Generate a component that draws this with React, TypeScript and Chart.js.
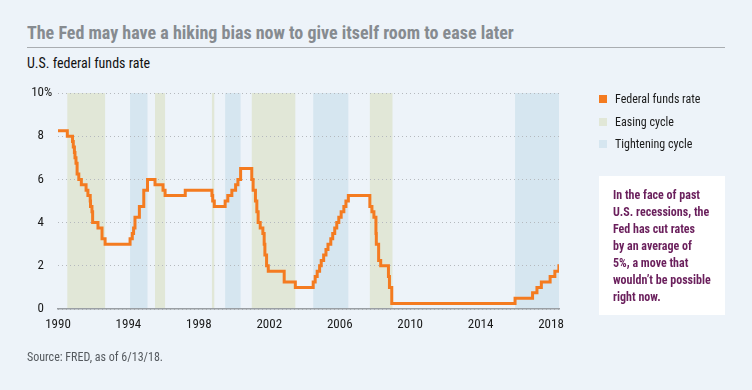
import React, { useEffect, useRef } from "react";
import { Chart, registerables } from "chart.js";

Chart.register(...registerables);

// ---- Data ----
const rateDates: string[] = [
  "1990-01-01", "1990-07-13", "1990-10-29", "1990-11-14", "1990-12-07", "1990-12-19",
  "1991-01-09", "1991-02-01", "1991-03-08", "1991-04-30", "1991-08-06", "1991-09-13",
  "1991-10-31", "1991-11-06", "1991-12-06", "1991-12-20",
  "1992-04-09", "1992-07-02", "1992-09-04",
  "1994-02-04", "1994-03-22", "1994-04-18", "1994-05-17", "1994-08-16", "1994-11-15",
  "1995-02-01", "1995-07-06", "1995-12-19",
  "1996-01-31", "1997-03-25",
  "1998-09-29", "1998-10-15", "1998-11-17",
  "1999-06-30", "1999-08-24", "1999-11-16",
  "2000-02-02", "2000-03-21", "2000-05-16",
  "2001-01-03", "2001-01-31", "2001-03-20", "2001-04-18", "2001-05-15", "2001-06-27",
  "2001-08-21", "2001-09-17", "2001-10-02", "2001-11-06", "2001-12-11",
  "2002-11-06", "2003-06-25",
  "2004-06-30", "2004-08-10", "2004-09-21", "2004-11-10", "2004-12-14",
  "2005-02-02", "2005-03-22", "2005-05-03", "2005-06-30", "2005-08-09", "2005-09-20",
  "2005-11-01", "2005-12-13",
  "2006-01-31", "2006-03-28", "2006-05-10", "2006-06-29",
  "2007-09-18", "2007-10-31", "2007-12-11",
  "2008-01-22", "2008-01-30", "2008-03-18", "2008-04-30", "2008-10-08", "2008-10-29", "2008-12-16",
  "2015-12-17", "2016-12-15",
  "2017-03-16", "2017-06-15", "2017-12-14",
  "2018-03-22", "2018-06-14", "2018-06-16",
];
const rateValues: number[] = [
  8.25, 8.0, 7.75, 7.5, 7.25, 7.0,
  6.75, 6.25, 6.0, 5.75, 5.5, 5.25,
  5.0, 4.75, 4.5, 4.0,
  3.75, 3.25, 3.0,
  3.25, 3.5, 3.75, 4.25, 4.75, 5.5,
  6.0, 5.75, 5.5,
  5.25, 5.5,
  5.25, 5.0, 4.75,
  5.0, 5.25, 5.5,
  5.75, 6.0, 6.5,
  6.0, 5.5, 5.0, 4.5, 4.0, 3.75,
  3.5, 3.0, 2.5, 2.0, 1.75,
  1.25, 1.0,
  1.25, 1.5, 1.75, 2.0, 2.25,
  2.5, 2.75, 3.0, 3.25, 3.5, 3.75,
  4.0, 4.25,
  4.5, 4.75, 5.0, 5.25,
  4.75, 4.5, 4.25,
  3.5, 3.0, 2.25, 2.0, 1.5, 1.0, 0.25,
  0.5, 0.75,
  1.0, 1.25, 1.5,
  1.75, 2.0, 2.0,
];

const easingStart: string[] = ["1990-07-13", "1995-07-06", "1998-09-29", "2001-01-03", "2007-09-18"];
const easingEnd: string[] = ["1992-09-04", "1996-01-31", "1998-11-17", "2003-06-25", "2008-12-31"];
const tighteningStart: string[] = ["1994-02-04", "1999-06-30", "2004-06-30", "2015-12-17"];
const tighteningEnd: string[] = ["1995-02-01", "2000-05-16", "2006-06-29", "2018-06-16"];

const xTicks: number[] = [1990, 1994, 1998, 2002, 2006, 2010, 2014, 2018];
const yTicks: number[] = [0, 2, 4, 6, 8, 10];
const yUnitTick = 10;
const yUnit = "%";

const toYear = (s: string): number => {
  const [y, m, d] = s.split("-").map(Number);
  const start = Date.UTC(y, 0, 1);
  const end = Date.UTC(y + 1, 0, 1);
  return y + (Date.UTC(y, m - 1, d) - start) / (end - start);
};

const FONT = "Roboto, 'DejaVu Sans Condensed', sans-serif";
const ORANGE = "#f47b20";
const EASE = "#e1e7d7";
const TIGHT = "#d6e6f0";
const BG = "#edf3f9";
const Y_PAD = 14;

const bandsPlugin = {
  id: "bands",
  beforeDraw(chart: any) {
    const { ctx, chartArea, scales } = chart;
    const x = scales.x;
    const draw = (s: string[], e: string[], color: string) => {
      ctx.save();
      ctx.fillStyle = color;
      s.forEach((st, i) => {
        const a = x.getPixelForValue(toYear(st));
        const b = x.getPixelForValue(toYear(e[i]));
        ctx.fillRect(a, chartArea.top, Math.max(1, b - a), chartArea.bottom - chartArea.top);
      });
      ctx.restore();
    };
    draw(easingStart, easingEnd, EASE);
    draw(tighteningStart, tighteningEnd, TIGHT);
  },
  afterDraw(chart: any) {
    const { ctx, scales } = chart;
    const y = scales.y;
    ctx.save();
    ctx.font = `400 condensed 13px ${FONT}`;
    ctx.fillStyle = "#1a1a1a";
    ctx.textAlign = "left";
    ctx.textBaseline = "middle";
    ctx.fillText(yUnit, y.right - Y_PAD, y.getPixelForValue(yUnitTick));
    ctx.restore();
  },
};

export default function App() {
  const ref = useRef<HTMLCanvasElement | null>(null);
  useEffect(() => {
    if (!ref.current) return;
    const pts = rateDates.map((d, i) => ({ x: toYear(d), y: rateValues[i] }));
    const tickFont: any = { family: FONT, size: 13, weight: "400 condensed" };
    const chart = new Chart(ref.current, {
      type: "line",
      data: {
        datasets: [
          {
            label: "Federal funds rate",
            data: pts,
            borderColor: ORANGE,
            borderWidth: 3,
            pointRadius: 0,
            stepped: true,
            fill: false,
          },
        ],
      },
      options: {
        animation: false,
        responsive: false,
        devicePixelRatio: 1,
        layout: { padding: { left: 0, right: 193, top: 93, bottom: 59 } },
        plugins: { legend: { display: false }, tooltip: { enabled: false } },
        scales: {
          x: {
            type: "linear",
            min: 1990,
            max: toYear("2018-06-16"),
            afterBuildTicks: (s: any) => {
              s.ticks = xTicks.map((v) => ({ value: v }));
            },
            afterFit: (s: any) => {
              s.height = 22;
            },
            grid: { display: false },
            border: { display: true, color: "#9a9fa4", width: 1.5 },
            ticks: {
              color: "#1a1a1a",
              font: tickFont,
              padding: 0,
              maxRotation: 0,
              autoSkip: false,
              callback: (v: any) => String(v),
            },
          },
          y: {
            min: 0,
            max: 10,
            afterBuildTicks: (s: any) => {
              s.ticks = yTicks.map((v) => ({ value: v }));
            },
            afterFit: (s: any) => {
              s.width = 58;
            },
            grid: {
              color: "#b5b9be",
              lineWidth: 1,
              drawTicks: false,
            },
            border: { display: false, dash: [1, 3] },
            ticks: {
              color: "#1a1a1a",
              font: tickFont,
              padding: Y_PAD,
              callback: (v: any) => String(v),
            },
          },
        },
      },
      plugins: [bandsPlugin],
    });
    return () => chart.destroy();
  }, []);

  const legendItem = (color: string, label: string, top: number) => (
    <div style={{ position: "absolute", left: 599, top, display: "flex", alignItems: "center" }}>
      <div style={{ width: 8, height: 8, background: color, marginRight: 8 }} />
      <span style={{ fontSize: 12, color: "#1a1a1a", lineHeight: "14px" }}>{label}</span>
    </div>
  );

  const noteLines = [
    "In the face of past",
    "U.S. recessions, the",
    "Fed has cut rates",
    "by an average of",
    "5%, a move that",
    "wouldn\u2019t be possible",
    "right now.",
  ];

  return (
    <div
      style={{
        position: "fixed",
        left: 0,
        top: 0,
        width: 752,
        height: 390,
        background: BG,
        fontFamily: FONT,
        fontStretch: "condensed",
        overflow: "hidden",
      }}
    >
      <div style={{ position: "absolute", left: 27, top: 22, fontSize: 18, fontWeight: 700, color: "#868b90", whiteSpace: "nowrap", lineHeight: "22px" }}>
        The Fed may have a hiking bias now to give itself room to ease later
      </div>
      <div style={{ position: "absolute", left: 27, top: 47, width: 698, height: 1, background: "#a9adb1" }} />
      <div style={{ position: "absolute", left: 27, top: 54, fontSize: 14, color: "#111", lineHeight: "18px" }}>
        U.S. federal funds rate
      </div>
      <canvas ref={ref} width={752} height={390} style={{ position: "absolute", left: 0, top: 0, width: 752, height: 390 }} />
      {legendItem(ORANGE, "Federal funds rate", 92)}
      {legendItem(EASE, "Easing cycle", 115)}
      {legendItem(TIGHT, "Tightening cycle", 137)}
      <div style={{ position: "absolute", left: 599, top: 176, width: 126, height: 139, background: "#ffffff" }}>
        {noteLines.map((l, i) => (
          <div
            key={i}
            style={{ position: "absolute", left: 14, top: 11 + i * 17, fontSize: 12, fontWeight: 700, color: "#6a1f5c", whiteSpace: "nowrap", lineHeight: "16px" }}
          >
            {l}
          </div>
        ))}
      </div>
      <div style={{ position: "absolute", left: 27, top: 349, fontSize: 12, color: "#555a5f", lineHeight: "16px" }}>
        Source: FRED, as of 6/13/18.
      </div>
    </div>
  );
}
